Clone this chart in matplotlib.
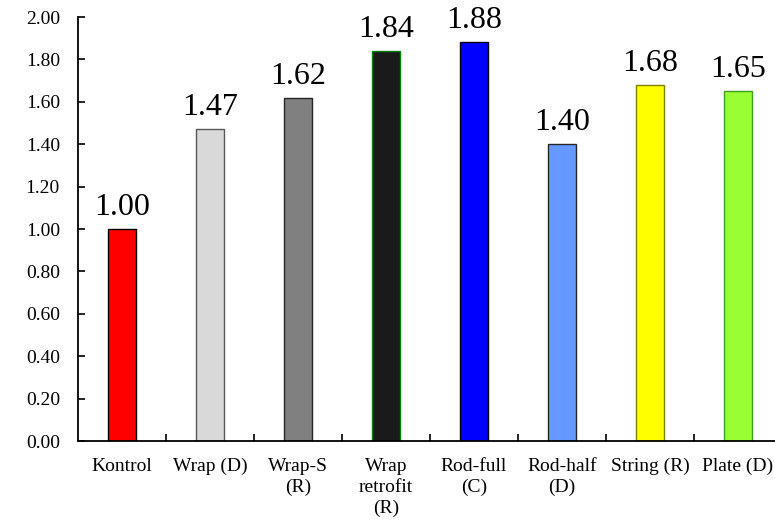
import numpy as np
import matplotlib.pyplot as plt

plt.rcParams['font.family'] = ['Liberation Serif', 'DejaVu Serif']

# Specimen groups and normalised capacity ratios
labels = ['Kontrol', 'Wrap (D)', 'Wrap-S\n(R)', 'Wrap\nretrofit\n(R)',
          'Rod-full\n(C)', 'Rod-half\n(D)', 'String (R)', 'Plate (D)']
ratios = [1.00, 1.47, 1.62, 1.84, 1.88, 1.40, 1.68, 1.65]
fill_colors = ['#FF0000', '#D9D9D9', '#808080', '#1A1A1A',
               '#0000FF', '#6699FF', '#FFFF00', '#99FF33']
edge_colors = ['#000000', '#595959', '#262626', '#008000',
               '#000000', '#262626', '#7F7F00', '#3F9F1F']

fig = plt.figure(figsize=(7.75, 5.2), dpi=100)
ax = fig.add_axes([78 / 775, 79 / 520, 704 / 775, 424 / 520])

x = np.arange(len(labels))
bars = ax.bar(x, ratios, width=0.31, color=fill_colors,
              edgecolor=edge_colors, linewidth=1.0, zorder=2)

for xi, v in zip(x, ratios):
    ax.annotate(f'{v:.2f}', (xi, v), xytext=(0, 5), textcoords='offset points',
                ha='center', va='bottom', fontsize=23)

ax.set_xlim(-0.5, len(labels) - 0.5)
ax.set_ylim(0, 2.0)
ax.set_yticks(np.arange(0, 2.01, 0.2))
ax.set_yticklabels([f'{t:.2f}' for t in np.arange(0, 2.01, 0.2)], fontsize=14)

# category labels centred under bars, tick marks between categories
ax.set_xticks(x)
ax.set_xticklabels(labels, fontsize=14, linespacing=1.3)
ax.tick_params(axis='x', length=0, pad=12)
ax.set_xticks(np.arange(0.5, len(labels) - 0.5, 1), minor=True)
ax.tick_params(axis='x', which='minor', direction='in', length=5, width=1.2)
ax.tick_params(axis='y', direction='in', length=5, width=1.2, pad=13)

for s in ['top', 'right']:
    ax.spines[s].set_visible(False)
for s in ['left', 'bottom']:
    ax.spines[s].set_linewidth(1.3)

fig.savefig('out.png', dpi=100)
